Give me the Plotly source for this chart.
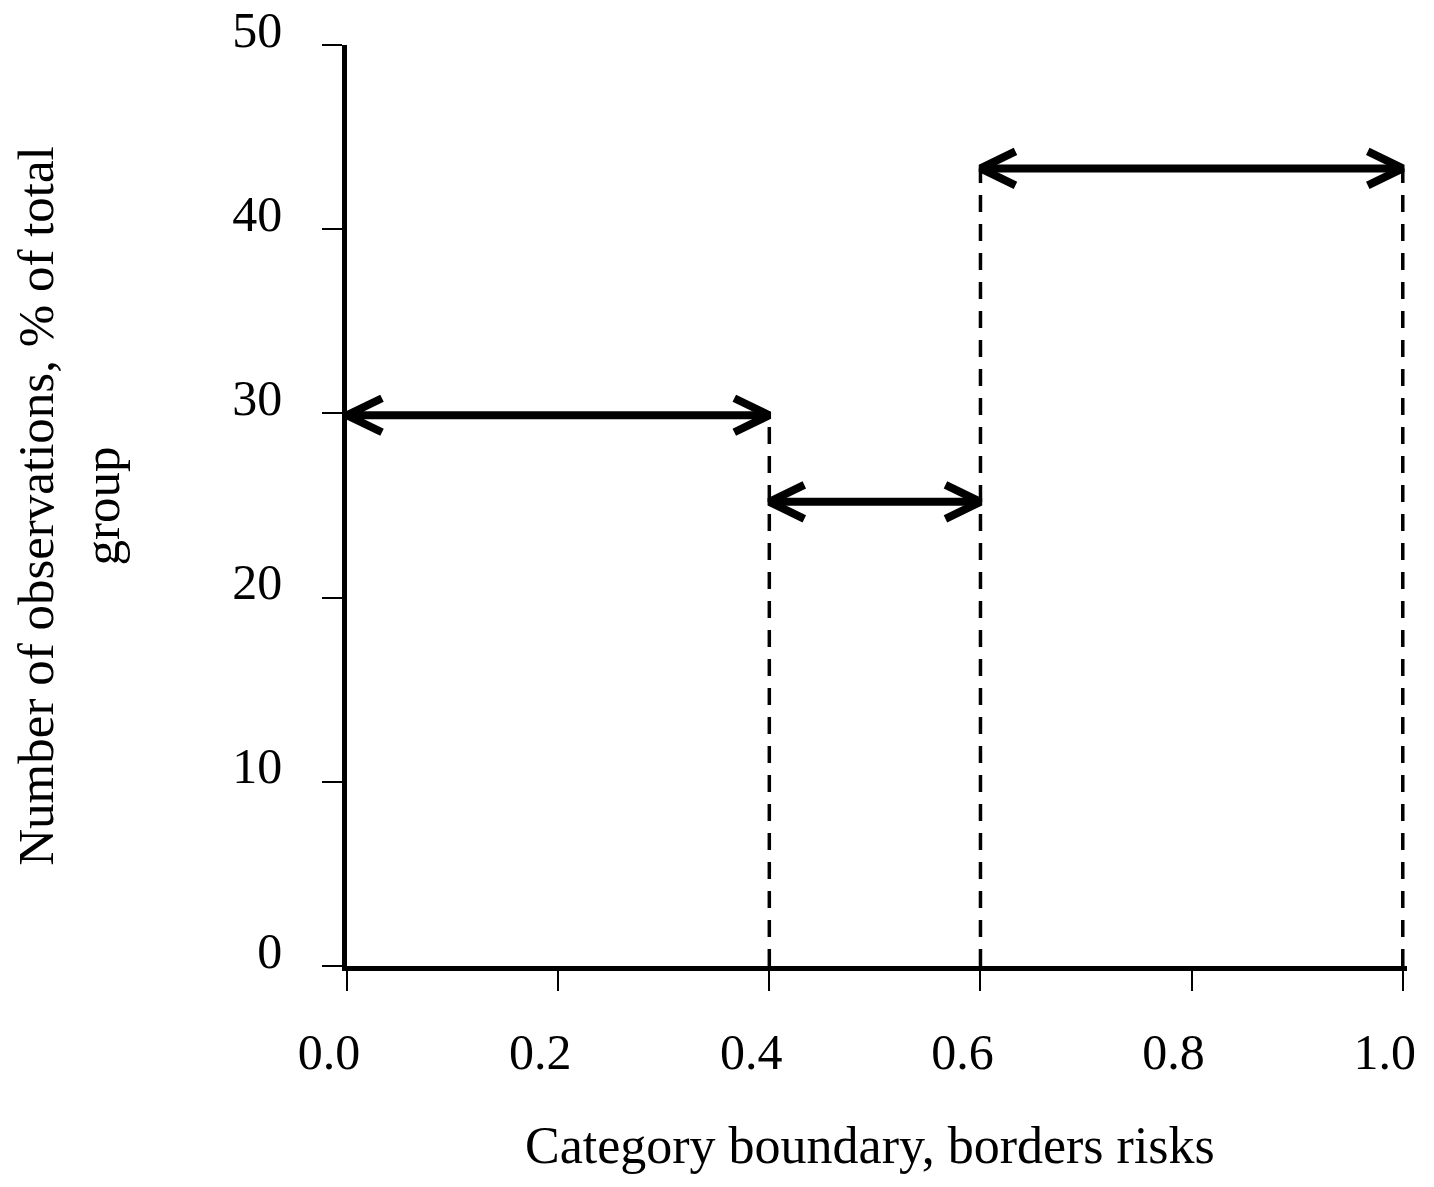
import plotly.graph_objects as go

# category boundaries (borders risks) and share of observations per category, %
bounds = [0.0, 0.4, 0.6, 1.0]
shares = [29.9, 25.2, 43.3]

x_ticks = [0.0, 0.2, 0.4, 0.6, 0.8, 1.0]
x_ticklabels = ["0.0", "0.2", "0.4", "0.6", "0.8", "1.0"]
y_ticks = [0, 10, 20, 30, 40, 50]

# the page body has an 8px margin, so take it off the figure box
BODY = 8
W, H = 1434 - BODY, 1187 - BODY
M_L, M_R, M_T, M_B = 347 - BODY, 27, 45 - BODY, 221
X_RANGE = [0, 1.004]
Y_RANGE = [0, 50]

# pixel -> data conversion, used for the arrow head size
px_x = (X_RANGE[1] - X_RANGE[0]) / (W - M_L - M_R)
px_y = (Y_RANGE[1] - Y_RANGE[0]) / (H - M_T - M_B)
head_dx = 35 * px_x
head_dy = 17 * px_y

FONT = "Liberation Serif, Times New Roman, serif"

fig = go.Figure()

# dashed category boundaries
for j in range(1, len(bounds)):
    left = shares[j - 1]
    right = shares[j] if j < len(shares) else 0
    top = max(left, right)
    fig.add_trace(go.Scatter(
        x=[bounds[j], bounds[j]], y=[0, top],
        mode="lines",
        line=dict(color="black", width=3.5, dash="17px,12px"),
        hoverinfo="skip", showlegend=False
    ))

# double headed arrows
for i, s in enumerate(shares):
    a, b = bounds[i], bounds[i + 1]
    xs = [a, b, None,
          a + head_dx, a, a + head_dx, None,
          b - head_dx, b, b - head_dx]
    ys = [s, s, None,
          s + head_dy, s, s - head_dy, None,
          s + head_dy, s, s - head_dy]
    fig.add_trace(go.Scatter(
        x=xs, y=ys, mode="lines",
        line=dict(color="black", width=8),
        hoverinfo="skip", showlegend=False
    ))

fig.update_xaxes(
    range=X_RANGE, automargin=False,
    tickvals=x_ticks, ticktext=x_ticklabels,
    showline=True, linecolor="black", linewidth=4.5,
    ticks="outside", ticklen=20, tickwidth=2, tickcolor="black",
    tickfont=dict(family=FONT, size=50, color="black"),
    ticklabelstandoff=18, ticklabelshift=-18, ticklabeloverflow="allow",
    showgrid=False, zeroline=False
)
fig.update_yaxes(
    range=Y_RANGE, automargin=False,
    tickvals=y_ticks,
    showline=True, linecolor="black", linewidth=4.5,
    ticks="outside", ticklen=20, tickwidth=2, tickcolor="black",
    tickfont=dict(family=FONT, size=50, color="black"),
    ticklabelstandoff=30, ticklabelshift=-16, ticklabeloverflow="allow",
    showgrid=False, zeroline=False
)

fig.add_annotation(
    text="Category boundary, borders risks",
    xref="paper", yref="paper", x=0.493, y=-0.195,
    xanchor="center", yanchor="middle", showarrow=False,
    font=dict(family=FONT, size=52, color="black")
)
fig.add_annotation(
    text="Number of observations, % of total<br>group",
    xref="paper", yref="paper", x=-0.263, y=0.5,
    xanchor="center", yanchor="middle", showarrow=False, textangle=-90,
    font=dict(family=FONT, size=51, color="black")
)

fig.update_layout(
    width=W, height=H,
    margin=dict(l=M_L, r=M_R, t=M_T, b=M_B, autoexpand=False),
    plot_bgcolor="white", paper_bgcolor="white",
    showlegend=False
)

fig.write_html("out.html")
